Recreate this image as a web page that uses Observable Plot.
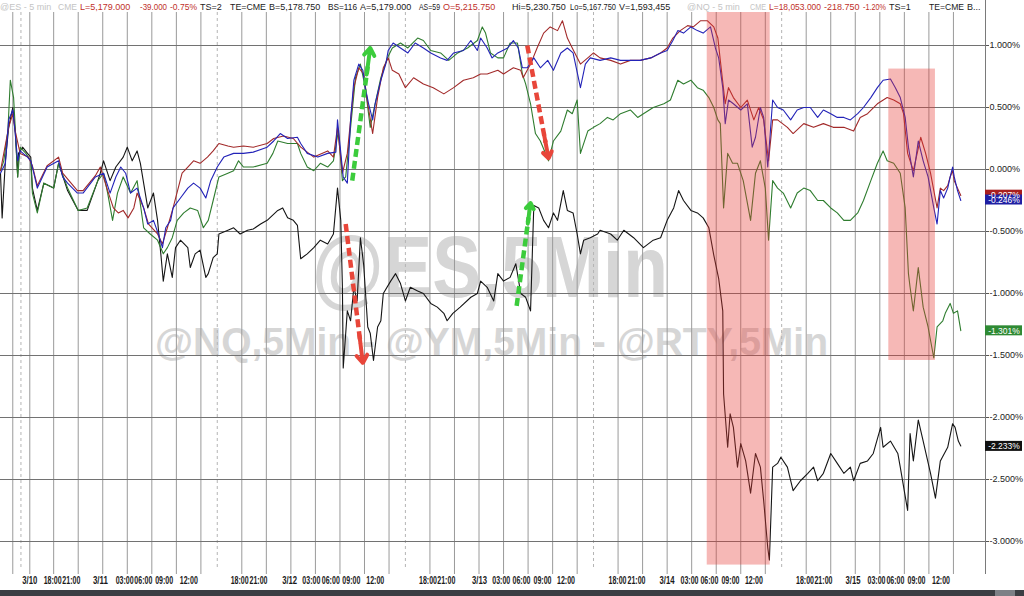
<!DOCTYPE html>
<html><head><meta charset="utf-8">
<script src="https://cdn.jsdelivr.net/npm/d3@7"></script>
<script src="https://cdn.jsdelivr.net/npm/@observablehq/plot@0.6"></script>
<style>
html,body{margin:0;padding:0;background:#fff;}
#chart{position:relative;width:1024px;height:596px;overflow:hidden;background:#fff}
#scroll{position:absolute;left:0;top:590px;width:1024px;height:6px;background:#3b3e43}
#thumb{position:absolute;left:995px;top:0;width:20px;height:6px;background:#7d8086}
</style></head>
<body><div id="chart"><div id="scroll"><div id="thumb"></div></div></div>
<script>
// ---- data: hours of trading time since chart start, % change ----
const esRed = [[0,-0.01],[1.0,0.34],[1.5,0.45],[1.8,0.31],[2.4,0.13],[3.4,0.10],[3.9,0.03],[4.5,-0.13],[5.7,0.03],[7.1,0.10],[7.6,-0.03],[9.4,-0.17],[10.1,-0.17],[11.6,-0.05],[12.2,0.02],[13.1,-0.17],[13.8,-0.31],[14.4,-0.35],[15.0,-0.33],[15.6,-0.39],[16.3,-0.31],[16.7,-0.19],[17.5,-0.31],[18.1,-0.44],[19.2,-0.52],[19.8,-0.60],[20.4,-0.47],[21.1,-0.31],[22.2,-0.03],[22.9,0.02],[23.6,0.07],[24.4,0.05],[25.3,0.10],[26.0,0.15],[26.7,0.21],[27.8,0.19],[28.5,0.18],[29.7,0.19],[30.9,0.18],[32.6,0.21],[33.4,0.25],[34.6,0.27],[35.8,0.25],[36.7,0.18],[38.3,0.10],[40.0,0.15],[40.7,0.10],[41.2,0.34],[41.8,-0.03],[42.4,0.13],[43.2,0.66],[43.8,0.82],[44.4,0.77],[44.9,0.53],[45.5,0.29],[46.1,0.58],[46.8,0.82],[47.4,0.90],[47.9,0.80],[48.7,0.77],[49.5,0.66],[50.5,0.74],[51.7,0.69],[52.9,0.66],[54.2,0.61],[55.4,0.66],[56.6,0.72],[57.8,0.74],[58.7,0.77],[59.5,0.77],[60.8,0.80],[61.5,0.77],[62.7,0.82],[63.6,0.80],[63.9,0.74],[64.8,0.85],[65.6,0.98],[66.4,1.10],[67.2,1.15],[68.1,1.12],[68.7,1.20],[69.3,1.06],[69.9,0.98],[70.9,0.85],[71.8,0.90],[72.5,0.94],[73.3,0.90],[74.6,0.88],[75.8,0.85],[77.0,0.88],[78.2,0.88],[79.5,0.90],[80.7,0.94],[81.5,0.98],[82.2,1.06],[83.1,1.12],[84.0,1.16],[84.7,1.15],[85.6,1.20],[86.4,1.20],[87.2,1.15],[87.7,1.06],[88.0,0.88],[88.6,0.53],[89.0,0.66],[89.6,0.58],[90.5,0.50],[91.3,0.56],[92.1,0.40],[92.7,0.50],[93.3,0.40],[93.9,0.07],[94.4,0.40],[95.0,0.40],[96.2,0.34],[96.9,0.29],[98.2,0.37],[99.4,0.34],[100.6,0.37],[101.8,0.34],[103.1,0.34],[104.3,0.31],[105.1,0.42],[106.0,0.45],[107.2,0.53],[108.4,0.58],[109.2,0.56],[110.0,0.53],[110.4,0.45],[110.9,0.13],[111.6,-0.01],[112.5,0.26],[113.1,0.13],[113.7,-0.03],[114.5,-0.31],[114.9,-0.15],[115.3,-0.17],[115.8,-0.13],[116.1,-0.06],[116.4,-0.01],[116.6,-0.09],[117.0,-0.15],[117.4,-0.21]];

const nqBlue = [[0,-0.03],[0.6,0.05],[1.0,0.40],[1.5,0.48],[1.8,0.29],[2.1,0.07],[2.4,0.15],[3.3,0.10],[3.7,0.07],[3.9,0.02],[4.5,-0.15],[5.7,0.02],[7.1,0.07],[7.6,-0.06],[8.2,-0.11],[9.4,-0.19],[10.1,-0.19],[11.6,-0.06],[12.6,-0.03],[13.4,-0.19],[14.1,-0.06],[14.7,0.02],[15.3,-0.03],[15.9,-0.19],[16.7,-0.15],[17.5,-0.31],[18.0,-0.44],[18.7,-0.41],[19.3,-0.52],[19.8,-0.63],[20.2,-0.47],[20.8,-0.41],[21.1,-0.31],[22.0,-0.23],[22.9,-0.15],[23.6,-0.11],[24.4,-0.15],[25.1,-0.23],[25.7,-0.09],[26.5,0.02],[27.3,0.10],[28.5,0.13],[29.7,0.13],[30.9,0.14],[32.6,0.18],[33.4,0.23],[34.2,0.29],[35.1,0.25],[36.3,0.26],[36.7,0.21],[37.5,0.13],[38.8,0.10],[40.0,0.13],[41.0,0.14],[41.2,0.40],[41.9,-0.06],[42.4,-0.11],[42.8,0.40],[43.2,0.72],[43.8,0.85],[44.3,0.80],[44.6,0.66],[45.0,0.53],[45.5,0.40],[45.8,0.53],[46.5,0.72],[47.1,0.85],[47.4,0.96],[48.0,1.02],[48.9,0.98],[49.8,0.94],[50.7,1.02],[51.7,0.98],[52.6,0.94],[53.8,0.90],[54.6,0.88],[55.4,0.94],[56.6,0.96],[57.5,1.04],[58.3,0.96],[58.7,1.06],[59.5,0.98],[60.1,0.90],[60.8,0.94],[62.0,0.98],[62.7,1.04],[63.3,0.98],[63.8,0.82],[64.4,0.82],[65.2,0.90],[66.0,0.82],[66.9,0.88],[67.6,0.80],[68.5,0.94],[69.3,0.98],[70.0,0.94],[70.9,0.66],[71.5,0.85],[72.1,0.90],[73.3,0.88],[74.6,0.90],[75.8,0.88],[77.0,0.88],[78.2,0.88],[79.5,0.90],[80.7,0.94],[81.5,0.96],[82.2,1.04],[82.8,1.12],[83.5,1.10],[84.4,1.15],[85.2,1.12],[85.9,1.10],[86.8,1.15],[87.4,0.98],[87.8,0.90],[88.3,0.66],[88.6,0.37],[89.0,0.56],[89.6,0.53],[90.5,0.48],[91.3,0.53],[91.9,0.18],[92.3,0.26],[92.9,0.50],[93.3,0.42],[93.8,0.02],[94.4,0.56],[95.0,0.50],[95.7,0.48],[96.6,0.40],[97.4,0.48],[98.2,0.50],[99.0,0.50],[99.9,0.42],[100.6,0.48],[101.5,0.45],[102.3,0.42],[103.1,0.42],[103.9,0.40],[104.8,0.45],[105.5,0.50],[106.4,0.58],[107.2,0.66],[107.9,0.72],[108.8,0.73],[109.4,0.66],[110.0,0.58],[110.6,0.42],[111.0,0.18],[111.6,-0.06],[112.2,0.23],[112.8,0.07],[113.4,-0.06],[114.1,-0.31],[114.5,-0.44],[114.9,-0.17],[115.3,-0.23],[115.8,-0.15],[116.1,-0.06],[116.4,0.02],[116.6,-0.06],[117.0,-0.17],[117.4,-0.25]];

const ymGreen = [[0,-0.01],[0.4,0.07],[0.9,0.31],[1.2,0.72],[1.6,0.58],[1.8,0.34],[2.1,-0.06],[2.4,0.18],[3.1,0.13],[3.7,0.07],[3.9,-0.19],[4.5,-0.35],[5.3,-0.11],[6.5,-0.15],[7.1,0.05],[8.2,-0.15],[9.5,-0.33],[10.6,-0.31],[11.9,-0.09],[12.6,-0.03],[13.1,-0.19],[13.7,-0.41],[14.3,-0.19],[15.0,-0.06],[15.9,-0.19],[16.7,-0.09],[17.5,-0.47],[18.3,-0.52],[19.2,-0.57],[19.9,-0.68],[20.4,-0.63],[21.0,-0.55],[21.6,-0.41],[22.4,-0.35],[23.2,-0.31],[24.1,-0.33],[24.8,-0.47],[25.4,-0.41],[26.0,-0.25],[26.7,-0.06],[27.8,-0.03],[28.5,-0.01],[29.1,0.07],[29.7,0.02],[30.9,0.02],[32.6,0.05],[33.3,0.13],[33.9,0.23],[35.1,0.21],[36.3,0.21],[36.7,0.13],[37.5,0.02],[38.3,-0.01],[39.1,0.05],[40.0,0.02],[40.7,0.07],[41.3,0.31],[41.8,-0.09],[42.2,-0.06],[42.8,0.34],[43.4,0.74],[44.0,0.85],[44.6,0.66],[45.2,0.34],[45.8,0.53],[46.5,0.74],[47.3,0.90],[47.9,0.98],[48.9,1.02],[49.8,0.98],[51.0,1.06],[51.7,1.04],[52.6,0.96],[53.8,0.94],[54.8,0.88],[55.9,0.94],[57.1,0.98],[58.3,1.04],[58.9,1.15],[59.3,1.10],[59.9,0.94],[60.8,0.90],[61.5,0.90],[62.3,1.02],[63.2,1.02],[63.8,0.77],[64.2,0.69],[64.8,0.53],[65.4,0.29],[66.0,0.23],[67.0,0.07],[67.6,0.23],[68.5,0.31],[69.3,0.48],[69.9,0.45],[70.5,0.56],[70.9,0.13],[71.8,0.31],[72.5,0.34],[73.3,0.37],[74.2,0.42],[74.9,0.40],[75.8,0.45],[77.0,0.48],[77.9,0.42],[78.6,0.45],[79.8,0.50],[81.1,0.53],[81.9,0.56],[82.8,0.72],[83.5,0.69],[84.4,0.72],[85.2,0.66],[85.9,0.64],[86.6,0.58],[87.2,0.50],[87.7,0.40],[88.0,0.37],[88.4,-0.31],[88.9,0.13],[89.5,0.05],[90.1,0.05],[90.8,-0.09],[91.7,-0.41],[92.3,-0.03],[92.9,0.07],[93.5,-0.15],[93.9,-0.57],[94.4,-0.09],[95.0,-0.15],[95.7,-0.19],[96.6,-0.31],[97.4,-0.19],[98.2,-0.15],[99.0,-0.17],[99.9,-0.25],[100.6,-0.25],[101.5,-0.31],[102.3,-0.35],[103.1,-0.41],[103.9,-0.41],[104.8,-0.35],[105.5,-0.25],[106.4,-0.09],[107.2,0.05],[107.9,0.15],[108.4,0.07],[109.2,0.05],[110.0,-0.03],[110.6,-0.31],[111.0,-0.84],[111.2,-0.95],[111.6,-1.14],[112.2,-0.79],[112.8,-1.11],[113.4,-1.27],[114.1,-1.52],[114.5,-1.27],[115.2,-1.22],[115.5,-1.16],[116.1,-1.08],[116.5,-1.16],[117.0,-1.14],[117.4,-1.30]];

const rtyBlack = [[0,-0.03],[0.2,-0.39],[0.6,0.07],[1.0,0.34],[1.5,0.50],[1.8,0.31],[2.1,-0.06],[2.2,0.13],[2.7,0.18],[3.3,0.13],[3.7,0.10],[3.9,-0.15],[4.5,-0.33],[5.3,-0.11],[6.5,-0.15],[7.1,0.05],[8.2,-0.17],[9.5,-0.33],[10.6,-0.33],[11.9,-0.09],[12.2,-0.03],[12.6,0.07],[13.4,-0.09],[14.1,0.02],[15.0,0.10],[15.5,0.18],[16.1,0.07],[16.7,0.15],[17.1,0.05],[18.0,-0.31],[18.7,-0.19],[19.2,-0.41],[19.6,-0.68],[19.9,-0.90],[20.4,-0.68],[21.0,-0.87],[21.4,-0.63],[22.0,-0.57],[22.9,-0.63],[23.2,-0.79],[23.8,-0.68],[24.4,-0.65],[25.1,-0.87],[25.4,-0.84],[26.0,-0.71],[26.5,-0.68],[26.7,-0.52],[27.8,-0.49],[28.5,-0.47],[29.3,-0.52],[30.2,-0.49],[30.9,-0.48],[31.8,-0.44],[32.6,-0.41],[33.9,-0.33],[34.5,-0.31],[35.1,-0.39],[35.8,-0.41],[36.3,-0.45],[36.7,-0.72],[37.5,-0.68],[38.3,-0.63],[39.1,-0.57],[40.0,-0.60],[40.7,-0.52],[41.2,-0.15],[41.6,-0.41],[41.8,-0.95],[41.9,-1.60],[42.4,-1.14],[42.8,-1.22],[43.2,-0.95],[43.6,-1.06],[44.0,-0.55],[44.4,-0.77],[44.9,-1.27],[45.2,-1.32],[45.6,-1.54],[46.1,-1.27],[46.5,-1.22],[46.8,-1.00],[47.7,-0.90],[48.3,-0.84],[48.9,-0.92],[49.5,-1.06],[50.1,-0.95],[51.0,-0.98],[51.7,-1.00],[52.6,-1.08],[53.4,-1.11],[54.2,-1.16],[54.6,-1.22],[55.3,-1.16],[56.2,-1.11],[57.5,-1.03],[58.3,-1.00],[58.7,-0.90],[59.5,-0.95],[60.3,-1.06],[60.8,-0.84],[61.5,-0.90],[62.3,-0.87],[63.0,-0.76],[63.6,-1.00],[64.2,-1.03],[64.8,-1.14],[65.2,-0.29],[65.8,-0.31],[66.4,-0.41],[67.0,-0.47],[67.6,-0.35],[68.1,-0.41],[68.8,-0.17],[69.3,-0.33],[70.0,-0.35],[70.5,-0.52],[70.9,-0.68],[71.3,-0.57],[72.1,-0.55],[73.0,-0.52],[73.3,-0.49],[74.6,-0.52],[75.4,-0.57],[76.2,-0.49],[77.4,-0.55],[78.6,-0.63],[79.8,-0.57],[80.7,-0.55],[81.5,-0.41],[82.3,-0.31],[82.9,-0.17],[83.5,-0.25],[84.4,-0.33],[85.2,-0.35],[85.9,-0.39],[86.6,-0.47],[87.2,-0.69],[87.8,-0.88],[88.3,-1.14],[88.4,-1.81],[88.9,-2.24],[89.2,-1.97],[89.6,-2.08],[90.1,-2.40],[90.5,-2.21],[91.1,-2.35],[91.7,-2.61],[92.3,-2.29],[92.9,-2.40],[93.3,-2.67],[93.8,-3.05],[94.0,-3.15],[94.4,-2.40],[95.0,-2.37],[95.4,-2.32],[96.2,-2.40],[96.9,-2.59],[97.8,-2.51],[98.7,-2.45],[99.4,-2.40],[99.9,-2.51],[100.6,-2.45],[101.5,-2.29],[102.3,-2.37],[103.1,-2.45],[103.9,-2.40],[104.3,-2.51],[105.1,-2.37],[106.0,-2.35],[106.7,-2.29],[107.6,-2.08],[107.9,-2.24],[108.8,-2.19],[109.7,-2.29],[110.0,-2.40],[110.9,-2.75],[111.2,-2.13],[111.6,-2.35],[112.2,-2.02],[112.8,-2.19],[113.7,-2.45],[114.3,-2.65],[114.9,-2.35],[115.8,-2.24],[116.4,-2.05],[116.7,-2.08],[117.1,-2.19],[117.4,-2.23]];

// last values shown in the right-hand boxes
const lastNames  = ["ES", "NQ", "YM", "RTY"];
const lastValues = [-0.207, -0.246, -1.301, -2.233];
const lastColors = ["#a81e1e", "#1f1fa3", "#2f8a34", "#111111"];

// axes
const yTicks = [1, 0.5, 0, -0.5, -1, -1.5, -2, -2.5, -3];
const gridHours = [1.5, 3.58, 6.5, 9.5, 12.5, 15.5, 18.5, 21.5, 24.5, 29.5, 32.5, 35.5, 38.5, 41.5, 44.5, 47.5, 52.5, 55.5, 58.5, 61.5, 64.5, 67.5, 70.5, 75.5, 78.5, 81.5, 84.5, 87.5, 90.5, 93.5, 98.5, 101.5, 104.5, 107.5, 110.5, 113.5, 116.5];
const sessionHours = [2.5, 26.5, 49.5, 72.5, 95.5];
const xLabelText = ["3/10","18:00","21:00","3/11","03:00","06:00","09:00","12:00","18:00","21:00","3/12","03:00","06:00","09:00","12:00","18:00","21:00","3/13","03:00","06:00","09:00","12:00","18:00","21:00","3/14","03:00","06:00","09:00","12:00","18:00","21:00","3/15","03:00","06:00","09:00","12:00"];
const xLabelHour = [3.57,6.38,8.66,12.22,15.18,17.46,20.01,23.02,29.24,31.54,35.35,38.0,40.38,42.89,45.81,52.26,54.5,58.56,61.22,63.69,66.26,69.13,75.43,77.75,81.48,84.23,86.67,89.24,92.11,98.35,100.61,104.22,107.09,109.41,111.98,114.98];

// annotations
const highlightT0 = [86.4, 108.6];
const highlightT1 = [94.1, 114.3];
const highlightV0 = [-3.19, -1.54];
const highlightV1 = [1.27, 0.81];
const arrowUp   = [{t0:43.0, v0:-0.09, t1:45.2, v1:0.98}, {t0:63.1, v0:-1.10, t1:64.8, v1:-0.27}];
const arrowDown = [{t0:42.2, v0:-0.44, t1:44.3, v1:-1.56}, {t0:64.4, v0:1.00, t1:67.0, v1:0.09}];

const headerTexts = ["@ES - 5 min","CME","L=5,179.000","-39.000","-0.75%","TS=2","TE=CME","B=5,178.750","BS=116","A=5,179.000","AS=59","O=5,215.750","Hi=5,230.750","Lo=5,167.750","V=1,593,455","@NQ - 5 min","CME","L=18,053.000","-218.750","-1.20%","TS=1","TE=CME","B..."];
const headerKinds = ["g","g","r","r","r","k","k","k","k","k","k","r","k","k","k","g","g","r","r","r","k","k","k"];

// ---- build ----
const xDomain = [0, 120.42];
const yDomain = [-3.2177, 1.3629];
const rows = a => a.map(([t, v]) => ({t, v}));
const lastTable = lastNames.map((s, i) => ({s, v: lastValues[i], c: lastColors[i]}));
const highlights = highlightT0.map((t, i) => ({t0: t, t1: highlightT1[i], v0: highlightV0[i], v1: highlightV1[i]}));
const xLabels = xLabelText.map((text, i) => ({text, t: xLabelHour[i]}));
const pctFmt = d => d.toFixed(3) + "%";
const along = (d, f) => ({t: d.t0 + (d.t1 - d.t0) * f, v: d.v0 + (d.v1 - d.v0) * f});

const headerX = [0,58,80,140,170,200,230,269,328,360,419,443,512,570,619,687,750,769,824,863,889,929,967];
const kindColor = {g:"#c4c4c4", r:"#c0302a", k:"#1a1a1a"};

function watermark(index, scales, values, dims) {
  const g = d3.create("svg:g").attr("font-family","'Liberation Sans',Arial,sans-serif").attr("font-weight","bold").attr("fill","#d6d6d6").attr("text-anchor","start");
  g.append("text").attr("x",312).attr("y",297).attr("font-size",88).attr("textLength",356).attr("lengthAdjust","spacingAndGlyphs").text("@ES,5Min");
  g.append("text").attr("x",155).attr("y",355).attr("font-size",38).attr("textLength",673).attr("lengthAdjust","spacingAndGlyphs").text("@NQ,5Min - @YM,5Min - @RTY,5Min");
  return g.node();
}
function header(index, scales, values, dims) {
  const g = d3.create("svg:g").attr("text-anchor","start").attr("font-size",9).attr("font-family","'Liberation Sans',Arial,sans-serif");
  g.append("rect").attr("x",0).attr("y",0).attr("width",dims.width - 39).attr("height",12).attr("fill","#fff");
  headerTexts.forEach((s, i) => {
    const next = i + 1 < headerX.length ? headerX[i + 1] - 3 : dims.width - 41;
    g.append("text").attr("class","hdr").attr("data-w", next - headerX[i])
      .attr("x", headerX[i]).attr("y", 10).attr("fill", kindColor[headerKinds[i]]).text(s);
  });
  return g.node();
}

const lineStyle = {x: "t", y: "v", strokeWidth: 1.1, curve: "linear"};
const svg = Plot.plot({
  width: 1024, height: 590,
  marginLeft: 0, marginRight: 39, marginTop: 0, marginBottom: 22,
  x: {domain: xDomain, axis: null},
  y: {domain: yDomain},
  style: {fontFamily: "'Liberation Sans',Arial,sans-serif", fontSize: "9px", background: "#fff", color: "#222"},
  marks: [
    watermark,
    Plot.ruleX(gridHours, {stroke: "#9a9a9a", strokeWidth: 1, insetBottom: -6}),
    Plot.ruleX(sessionHours, {stroke: "#b4b4b4", strokeDasharray: "3,3"}),
    Plot.ruleY(yTicks, {stroke: "#727272", strokeWidth: 1}),
    Plot.ruleX([xDomain[1]], {stroke: "#7a7a7a", insetBottom: -6}),
    Plot.line(rows(rtyBlack), {...lineStyle, stroke: "#151515"}),
    Plot.line(rows(ymGreen), {...lineStyle, stroke: "#2f7d2f"}),
    Plot.line(rows(esRed), {...lineStyle, stroke: "#a22a2a"}),
    Plot.line(rows(nqBlue), {...lineStyle, stroke: "#2323b8"}),
    Plot.rect(highlights, {x1: "t0", x2: "t1", y1: "v0", y2: "v1", fill: "#e53935", fillOpacity: 0.36}),
    Plot.link(arrowUp, {x1: "t0", y1: "v0", x2: d => along(d, 0.86).t, y2: d => along(d, 0.86).v, stroke: "#3ccc3c", strokeWidth: 4.5, strokeDasharray: "8,4"}),
    Plot.arrow(arrowUp, {x1: d => along(d, 0.8).t, y1: d => along(d, 0.8).v, x2: "t1", y2: "v1", stroke: "#3ccc3c", strokeWidth: 4, headLength: 11, headAngle: 70}),
    Plot.link(arrowDown, {x1: "t0", y1: "v0", x2: d => along(d, 0.86).t, y2: d => along(d, 0.86).v, stroke: "#e8463a", strokeWidth: 4.5, strokeDasharray: "8,4"}),
    Plot.arrow(arrowDown, {x1: d => along(d, 0.8).t, y1: d => along(d, 0.8).v, x2: "t1", y2: "v1", stroke: "#e8463a", strokeWidth: 4, headLength: 11, headAngle: 70}),
    Plot.axisY(yTicks, {anchor: "right", tickSize: 3, tickPadding: 1, tickFormat: pctFmt, fontSize: 9, stroke: "#555"}),
    Plot.rect(lastTable, {x1: xDomain[1], x2: xDomain[1], y1: "v", y2: "v", insetTop: -5, insetBottom: -5, insetRight: -37, fill: "c"}),
    Plot.text(lastTable, {x: xDomain[1], y: "v", text: d => pctFmt(d.v), dx: 18.5, fill: "#fff", fontSize: 8.5}),
    Plot.text(xLabels, {x: "t", frameAnchor: "bottom", dy: 15.5, text: "text", fontSize: 10.5, fontWeight: "bold", fill: "#1a1a1a"}),
    header
  ]
});
document.getElementById("chart").prepend(svg);
// squeeze texts to the narrow face used by the original where they would collide
const isXLabel = s => /^(\d\d:\d\d|\d\/\d\d)$/.test(s);
d3.select(svg).selectAll("text").each(function() {
  if (isXLabel(this.textContent)) this.setAttribute("data-w", this.textContent.includes(":") ? 18 : 15);
});
d3.select(svg).selectAll("text[data-w]").each(function() {
  const avail = +this.getAttribute("data-w");
  if (this.getComputedTextLength() > avail) {
    this.setAttribute("textLength", avail);
    this.setAttribute("lengthAdjust", "spacingAndGlyphs");
  }
});
</script>
</body></html>
